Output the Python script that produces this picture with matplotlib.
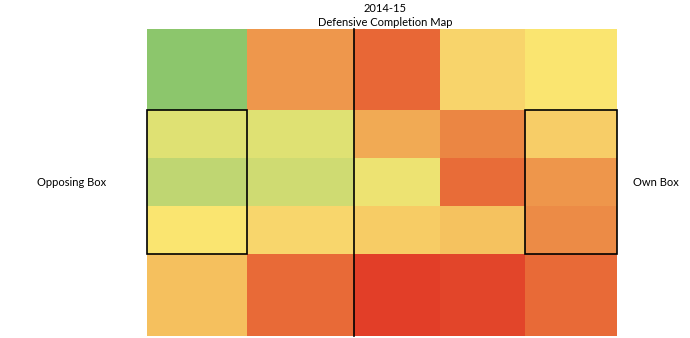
import matplotlib.pyplot as plt
import numpy as np
from matplotlib.colors import LinearSegmentedColormap
from matplotlib.patches import Rectangle

plt.rcParams['font.family'] = ['Lato', 'DejaVu Sans']

# zone edges (pitch zones, uneven sizes as in the source sheet)
col_edges = [0, 100, 207, 293, 378, 470]
row_edges = [0, 81, 129, 177, 225, 307]

# relative completion score per zone, top row first (1 = best for defence)
scores = np.array([
    [1.00, 0.50, 0.24, 0.79, 0.88],
    [0.92, 0.92, 0.60, 0.38, 0.76],
    [0.96, 0.94, 0.90, 0.26, 0.49],
    [0.88, 0.80, 0.75, 0.71, 0.41],
    [0.70, 0.25, 0.00, 0.08, 0.25],
])

# excel-ish red -> yellow -> green scale
cmap = LinearSegmentedColormap.from_list('excel', [
    (0.00, '#E23E28'), (0.10, '#E2472B'), (0.25, '#E86A37'),
    (0.40, '#EC8A45'), (0.50, '#EE974C'), (0.60, '#F1AA54'),
    (0.70, '#F5C05E'), (0.80, '#F8D66C'), (0.88, '#FCE570'),
    (0.92, '#E0E173'), (0.96, '#C0D672'), (1.00, '#8CC66C'),
])

fig = plt.figure(figsize=(6.9, 3.38), dpi=100)
ax = fig.add_axes([147/690, 2/338, 470/690, 307/338])
ax.pcolormesh(col_edges, row_edges, scores, cmap=cmap, vmin=0, vmax=1)
ax.set_xlim(col_edges[0], col_edges[-1])
ax.set_ylim(row_edges[-1], row_edges[0])
ax.axis('off')

# halfway line and the two boxes
ax.plot([col_edges[2], col_edges[2]], [row_edges[0], row_edges[-1]],
        color='black', lw=1.2, clip_on=False)
for x0, x1 in [(col_edges[0], col_edges[1]), (col_edges[4], col_edges[5])]:
    ax.add_patch(Rectangle((x0, row_edges[1]), x1 - x0, row_edges[4] - row_edges[1],
                           fill=False, edgecolor='black', lw=1.2, clip_on=False))

fig.text(385/690, 1 - 8/338, '2014-15', ha='center', va='center', fontsize=8)
fig.text(385/690, 1 - 22/338, 'Defensive Completion Map', ha='center', va='center', fontsize=8)
fig.text(72/690, 1 - 183/338, 'Opposing Box', ha='center', va='center', fontsize=8)
fig.text(656/690, 1 - 183/338, 'Own Box', ha='center', va='center', fontsize=8)

fig.savefig('out.png', dpi=100)
